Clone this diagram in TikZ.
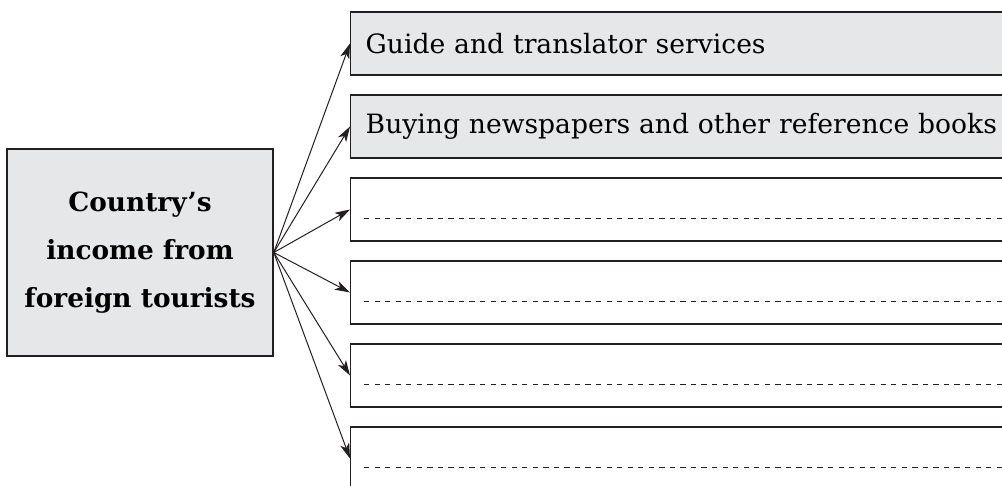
\documentclass[tikz,border=0pt]{standalone}
\usepackage{fontspec}
\setmainfont{DejaVu Serif}
\usepackage{xcolor}
\usetikzlibrary{arrows.meta}
\definecolor{ink}{HTML}{231F20}
\definecolor{panel}{HTML}{E6E7E9}
\tikzset{
  srcbox/.style={draw=ink, fill=panel, line width=1.3pt, minimum width=7.98cm,
    minimum height=6.21cm, align=center, font=\bfseries\fontsize{22.5}{41}\selectfont},
  itembox/.style={draw=ink, line width=1.2pt, anchor=west, inner xsep=0.45cm,
    text width=19.2cm, minimum height=1.89cm, align=left,
    font=\fontsize{22.7}{26}\selectfont},
  filled/.style={fill=panel},
  fanline/.style={draw=ink, line width=0.85pt, -{Stealth[length=13pt, width=8pt, inset=3.5pt]}},
  blankline/.style={draw=ink, line width=0.8pt, dash pattern=on 4.5pt off 4.5pt},
}

\begin{document}
\begin{tikzpicture}[x=0.03cm, y=-0.03cm]
  \clip (0,0) rectangle (1002,486);
  \fill[white] (0,0) rectangle (1002,486);
  \node[srcbox] (src) at (140,252.5) {Country’s\\income from\\foreign tourists};
  \node[itembox, filled] (guide) at (350,43.5) {Guide and translator services};
  \node[itembox, filled] (books) at (350,126.5) {Buying newspapers and other reference books};
  \node[itembox] (blankA) at (350,209.5) {};
  \node[itembox] (blankB) at (350,292.5) {};
  \node[itembox] (blankC) at (350,375.5) {};
  \node[itembox] (blankD) at (350,458.5) {};
  % dotted answer lines in the empty boxes
  \coordinate (endA) at (1002,218);
  \coordinate (endB) at (1002,301);
  \coordinate (endC) at (1002,384);
  \coordinate (endD) at (1002,467.5);
  \draw[blankline] (364,218) -- (endA);
  \draw[blankline] (364,301) -- (endB);
  \draw[blankline] (364,384) -- (endC);
  \draw[blankline] (364,467.5) -- (endD);
  \draw[fanline] (src.east) -- (guide.west);
  \draw[fanline] (src.east) -- (books.west);
  \draw[fanline] (src.east) -- (blankA.west);
  \draw[fanline] (src.east) -- (blankB.west);
  \draw[fanline] (src.east) -- (blankC.west);
  \draw[fanline] (src.east) -- (blankD.west);
\end{tikzpicture}
\end{document}
